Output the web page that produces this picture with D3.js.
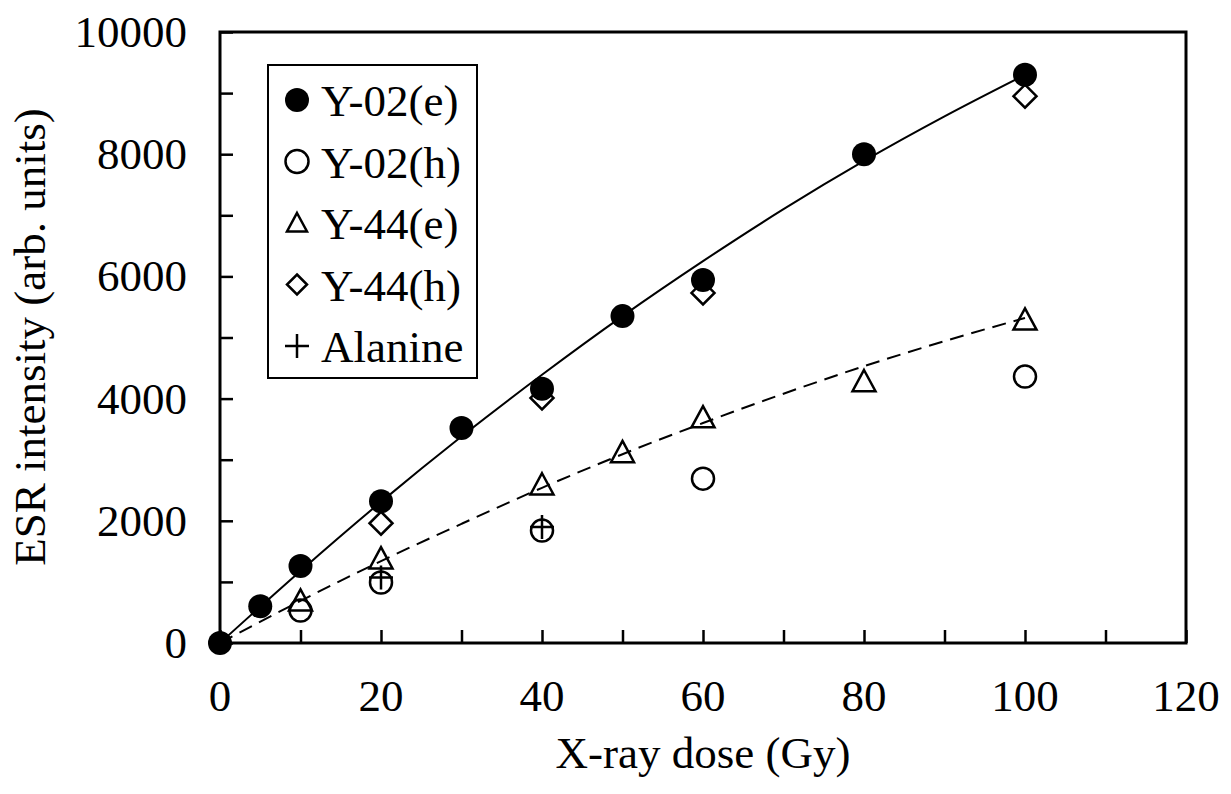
<!DOCTYPE html>
<html><head><meta charset="utf-8">
<script src="https://cdn.jsdelivr.net/npm/d3@7"></script>
<style>html,body{margin:0;padding:0;background:#fff}svg{display:block}</style>
</head><body>
<svg id="chart" width="1231" height="794"></svg>
<script>
// ---- data ----
const y02eDose = [0,5,10,20,30,40,50,60,80,100];
const y02eVal  = [0,600,1260,2320,3520,4160,5350,5940,8000,9300];
const y02hDose = [10,20,40,60,100];
const y02hVal  = [530,990,1840,2690,4360];
const y44eDose = [10,20,40,50,60,80,100];
const y44eVal  = [690,1380,2590,3120,3690,4280,5290];
const y44hDose = [20,40,60,100];
const y44hVal  = [1960,4010,5730,8950];
const alaDose  = [20,40];
const alaVal   = [1070,1900];
// fitted curves
const fitDose  = [0,10,20,30,40,50,60,70,80,90,100];
const fitSolid = [0,1180,2310,3380,4390,5350,6250,7100,7890,8620,9300];
const fitDash  = [0,690,1340,1950,2540,3090,3600,4080,4530,4940,5320];
const xTicks = [0,20,40,60,80,100,120];
const yTicks = [0,2000,4000,6000,8000,10000];
const legendLabels = ["Y-02(e)","Y-02(h)","Y-44(e)","Y-44(h)","Alanine"];

const svg = d3.select("#chart");
const L=220, R=1186, T=32, B=643;
const x = d3.scaleLinear().domain([0,120]).range([L,R]);
const y = d3.scaleLinear().domain([0,10000]).range([B,T]);
const font = "'Liberation Serif','Times New Roman',serif";
const fs = 45;

// frame
svg.append("rect").attr("x",L).attr("y",T).attr("width",R-L).attr("height",B-T)
  .attr("fill","none").attr("stroke","#000").attr("stroke-width",3);

// axes with inward ticks
const xAxis = svg.append("g").attr("transform",`translate(0,${B})`)
  .call(d3.axisBottom(x).tickValues(d3.range(0,121,10)).tickSize(-13).tickFormat(""));
const yAxis = svg.append("g").attr("transform",`translate(${L},0)`)
  .call(d3.axisLeft(y).tickValues(d3.range(0,10001,1000)).tickSize(-13).tickFormat(""));
[xAxis,yAxis].forEach(g=>{g.select(".domain").remove();g.selectAll("line").attr("stroke","#000").attr("stroke-width",2.5);});

svg.append("g").selectAll("text").data(xTicks).join("text")
  .attr("x",d=>x(d)).attr("y",711).attr("text-anchor","middle")
  .attr("font-family",font).attr("font-size",fs).text(d=>d);
svg.append("g").selectAll("text").data(yTicks).join("text")
  .attr("x",187).attr("y",d=>y(d)+15).attr("text-anchor","end")
  .attr("font-family",font).attr("font-size",fs).text(d=>d);

svg.append("text").attr("x",703).attr("y",768).attr("text-anchor","middle")
  .attr("font-family",font).attr("font-size",fs).text("X-ray dose (Gy)");
svg.append("text").attr("transform","translate(45,337) rotate(-90)").attr("text-anchor","middle")
  .attr("font-family",font).attr("font-size",fs).text("ESR intensity (arb. units)");

// fitted curves
const line = d3.line().x(d=>x(d[0])).y(d=>y(d[1])).curve(d3.curveMonotoneX);
svg.append("path").attr("d",line(fitDose.map((d,i)=>[d,fitSolid[i]])))
  .attr("fill","none").attr("stroke","#000").attr("stroke-width",2);
svg.append("path").attr("d",line(fitDose.map((d,i)=>[d,fitDash[i]])))
  .attr("fill","none").attr("stroke","#000").attr("stroke-width",2).attr("stroke-dasharray","14,8");

// symbol drawers
function drawSym(g, type, cx, cy, s){
  const sw = 2.5;
  if(type==="fcircle") g.append("circle").attr("cx",cx).attr("cy",cy).attr("r",s).attr("fill","#000");
  if(type==="ocircle") g.append("circle").attr("cx",cx).attr("cy",cy).attr("r",s-1).attr("fill","none").attr("stroke","#000").attr("stroke-width",sw);
  if(type==="tri") g.append("path").attr("d",`M${cx},${cy-s}L${cx+s},${cy+s*0.85}L${cx-s},${cy+s*0.85}Z`).attr("fill","none").attr("stroke","#000").attr("stroke-width",sw);
  if(type==="dia") g.append("path").attr("d",`M${cx},${cy-s}L${cx+s},${cy}L${cx},${cy+s}L${cx-s},${cy}Z`).attr("fill","none").attr("stroke","#000").attr("stroke-width",sw);
  if(type==="plus") g.append("path").attr("d",`M${cx-s},${cy}H${cx+s}M${cx},${cy-s}V${cy+s}`).attr("fill","none").attr("stroke","#000").attr("stroke-width",sw);
}
const series = [
  {dose:y02hDose,val:y02hVal,type:"ocircle",s:12},
  {dose:y44eDose,val:y44eVal,type:"tri",s:11.5},
  {dose:y44hDose,val:y44hVal,type:"dia",s:11.5},
  {dose:alaDose,val:alaVal,type:"plus",s:12},
  {dose:y02eDose,val:y02eVal,type:"fcircle",s:12},
];
const pts = svg.append("g");
series.forEach(sr=>sr.dose.forEach((d,i)=>drawSym(pts,sr.type,x(d),y(sr.val[i]),sr.s)));

// legend
const lg = svg.append("g");
lg.append("rect").attr("x",268).attr("y",65).attr("width",209).attr("height",313)
  .attr("fill","#fff").attr("stroke","#000").attr("stroke-width",2);
const legTypes = ["fcircle","ocircle","tri","dia","plus"];
const legSizes = [12,12.5,10,10,12];
legendLabels.forEach((lab,i)=>{
  const cy = 100 + i*61.5;
  drawSym(lg, legTypes[i], 297, cy, legSizes[i]);
  lg.append("text").attr("x",321).attr("y",cy+16).attr("font-family",font).attr("font-size",fs).text(lab);
});
</script>
</body></html>
